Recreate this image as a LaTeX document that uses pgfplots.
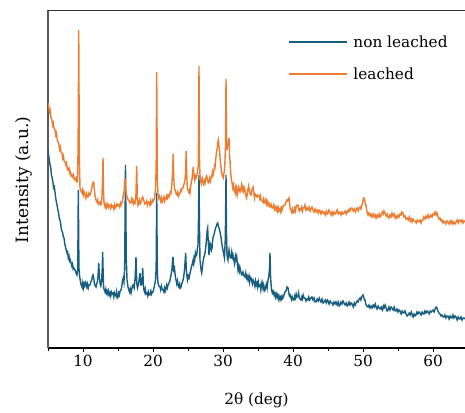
\documentclass[border=0pt]{standalone}
\usepackage{pgfplots}
\pgfplotsset{compat=1.18}
\usepackage{fontspec}
\setmainfont{DejaVu Serif}
\definecolor{nlblue}{RGB}{24,94,126}
\definecolor{lorange}{RGB}{237,125,49}
\newcommand{\chartfont}{\fontsize{15.3}{18}\selectfont}

% intensity in arbitrary units (no y tick labels)
\pgfplotstableread{
x y
5.00 198
5.10 192
5.20 188
5.29 183
5.40 180
5.50 172
5.57 171
5.70 166
5.80 160
5.90 161
6.00 156
6.10 150
6.20 146
6.30 143
6.40 138
6.50 136
6.60 130
6.71 128
6.80 125
6.90 119
7.00 117
7.10 115
7.20 111
7.29 110
7.40 104
7.50 101
7.60 98
7.71 95
7.80 96
7.90 90
8.00 92
8.10 87
8.20 88
8.29 85
8.40 82
8.50 84
8.60 79
8.70 80
8.86 78
9.00 75
9.14 73
9.25 80
9.33 158
9.42 80
9.50 73
9.60 68
9.70 64
9.86 61
9.95 65
10.05 60
10.15 64
10.25 62
10.35 66
10.43 65
10.55 61
10.65 64
10.75 60
10.85 63
11.00 63
11.10 66
11.25 68
11.35 72
11.43 73
11.55 69
11.65 64
11.75 62
11.86 61
11.95 64
12.05 66
12.15 72
12.25 85
12.35 70
12.45 64
12.55 62
12.65 66
12.75 80
12.81 96
12.88 75
12.95 60
13.05 58
13.15 56
13.25 59
13.35 55
13.45 57
13.55 54
13.65 57
13.75 53
13.86 55
13.95 52
14.05 56
14.15 54
14.29 55
14.40 51
14.50 55
14.60 53
14.71 52
14.80 56
14.90 50
15.00 51
15.10 55
15.20 53
15.30 57
15.43 58
15.55 62
15.65 68
15.75 70
15.85 66
15.95 80
16.07 183
16.18 90
16.29 68
16.43 61
16.55 58
16.65 56
16.75 59
16.86 55
16.95 58
17.05 62
17.14 63
17.30 60
17.45 70
17.57 91
17.68 65
17.78 60
17.86 62
17.96 66
18.05 70
18.14 75
18.25 63
18.36 63
18.45 70
18.53 80
18.62 64
18.71 58
18.80 56
18.90 59
19.00 54
19.14 55
19.25 52
19.35 56
19.45 53
19.57 53
19.70 57
19.80 54
19.90 56
20.00 56
20.10 59
20.20 62
20.36 68
20.45 80
20.53 155
20.62 75
20.71 65
20.85 62
21.00 61
21.10 58
21.20 62
21.30 59
21.43 58
21.55 56
21.65 60
21.75 57
21.86 60
21.95 63
22.05 60
22.15 63
22.29 65
22.40 67
22.50 70
22.57 73
22.70 78
22.80 88
22.86 91
22.95 78
23.07 80
23.18 72
23.29 68
23.40 64
23.50 67
23.57 63
23.70 61
23.80 64
23.90 60
24.00 61
24.10 64
24.20 66
24.29 68
24.40 72
24.50 78
24.60 88
24.67 95
24.75 80
24.85 72
24.93 68
25.05 72
25.15 70
25.29 75
25.40 78
25.50 82
25.57 83
25.70 87
25.80 84
25.86 90
25.95 88
26.05 95
26.15 92
26.24 93
26.35 100
26.43 103
26.50 130
26.57 173
26.64 120
26.71 88
26.80 82
26.90 77
26.96 75
27.05 80
27.14 86
27.25 90
27.35 93
27.43 95
27.55 102
27.65 110
27.75 118
27.81 120
27.90 105
28.00 93
28.08 98
28.14 105
28.25 103
28.35 98
28.43 100
28.52 108
28.62 112
28.71 113
28.80 116
28.86 118
28.95 120
29.05 122
29.15 124
29.24 125
29.33 122
29.43 120
29.52 118
29.62 114
29.71 111
29.80 106
29.90 101
30.00 98
30.10 94
30.21 90
30.33 110
30.43 173
30.50 115
30.57 93
30.64 90
30.71 88
30.80 95
30.86 98
30.95 93
31.05 90
31.14 90
31.25 96
31.35 91
31.43 93
31.55 88
31.65 84
31.71 86
31.80 92
31.90 89
31.96 91
32.05 84
32.14 78
32.25 82
32.35 77
32.43 80
32.55 76
32.65 73
32.71 73
32.85 76
33.00 72
33.14 71
33.25 75
33.35 70
33.45 72
33.57 68
33.70 72
33.80 66
33.90 71
34.00 70
34.10 67
34.20 64
34.30 68
34.43 66
34.55 62
34.65 67
34.75 63
34.86 65
34.95 61
35.05 66
35.15 62
35.29 63
35.40 58
35.50 64
35.57 66
35.70 60
35.80 63
35.90 57
36.00 58
36.10 62
36.20 64
36.30 60
36.43 68
36.55 72
36.63 78
36.71 95
36.80 70
36.93 58
37.05 55
37.15 57
37.29 53
37.40 55
37.50 51
37.60 54
37.71 51
37.80 53
37.90 49
38.00 52
38.14 48
38.25 51
38.35 49
38.45 52
38.55 50
38.71 53
38.85 56
39.00 57
39.15 61
39.29 60
39.40 55
39.50 52
39.60 53
39.71 50
39.80 48
39.90 51
40.00 49
40.14 48
40.25 52
40.35 50
40.45 54
40.55 51
40.71 52
40.80 55
40.90 50
41.00 49
41.14 48
41.25 51
41.35 49
41.45 53
41.57 50
41.71 50
41.85 47
42.00 49
42.14 48
42.25 51
42.40 48
42.55 50
42.71 51
42.85 48
43.00 50
43.15 46
43.29 46
43.45 49
43.60 47
43.75 50
43.86 48
44.00 46
44.15 49
44.30 45
44.43 46
44.60 48
44.75 45
44.90 48
45.00 47
45.15 44
45.30 47
45.45 45
45.57 45
45.70 43
45.85 46
46.00 44
46.14 46
46.30 43
46.45 46
46.60 42
46.71 43
46.85 46
47.00 44
47.15 47
47.29 45
47.45 43
47.60 45
47.75 42
47.86 43
48.00 46
48.15 43
48.30 45
48.43 44
48.60 41
48.75 45
48.90 43
49.00 45
49.15 47
49.30 46
49.45 49
49.57 50
49.70 48
49.80 51
49.90 52
50.00 53
50.10 51
50.20 48
50.29 48
50.40 44
50.55 42
50.71 41
50.85 43
51.00 40
51.15 42
51.29 40
51.45 43
51.60 41
51.75 44
51.86 41
52.00 39
52.15 42
52.30 40
52.43 39
52.60 41
52.75 38
52.90 42
53.00 40
53.15 43
53.30 40
53.45 37
53.57 38
53.70 41
53.85 38
54.00 41
54.14 40
54.30 38
54.45 41
54.60 37
54.71 37
54.85 39
55.00 36
55.15 38
55.29 37
55.45 34
55.60 37
55.75 35
55.86 35
56.00 37
56.15 34
56.30 32
56.43 33
56.60 35
56.75 33
56.90 36
57.00 34
57.15 31
57.30 34
57.45 32
57.57 33
57.70 36
57.85 34
58.00 36
58.14 35
58.30 33
58.45 36
58.60 34
58.71 34
58.85 37
59.00 35
59.15 37
59.29 36
59.45 34
59.60 37
59.75 36
59.86 37
60.00 38
60.15 36
60.30 39
60.45 41
60.57 40
60.70 37
60.85 35
61.00 34
61.15 32
61.29 33
61.45 31
61.57 31
61.70 33
61.85 30
62.00 32
62.14 32
62.30 29
62.45 32
62.60 30
62.71 30
62.85 33
63.00 30
63.15 32
63.29 31
63.45 28
63.60 31
63.75 29
63.86 29
64.00 31
64.15 28
64.30 30
64.43 30
64.57 29
}\nonleached

\pgfplotstableread{
x y
5.00 245
5.10 242
5.20 236
5.30 238
5.43 230
5.55 228
5.65 223
5.75 225
5.85 220
6.00 218
6.10 213
6.20 215
6.30 209
6.43 206
6.55 204
6.65 199
6.75 201
6.85 196
7.00 195
7.10 190
7.20 192
7.30 187
7.43 186
7.55 183
7.65 185
7.75 179
7.86 178
8.00 180
8.10 175
8.20 176
8.30 172
8.43 173
8.55 171
8.65 173
8.75 169
8.86 168
9.00 170
9.10 166
9.21 166
9.30 200
9.39 318
9.48 190
9.57 160
9.70 157
9.86 155
9.95 158
10.05 153
10.15 156
10.29 153
10.40 150
10.50 154
10.60 151
10.71 151
10.85 155
11.00 153
11.14 156
11.25 160
11.35 163
11.45 166
11.53 166
11.62 158
11.71 153
11.80 150
11.90 147
12.00 146
12.10 148
12.20 144
12.29 145
12.40 146
12.50 143
12.57 143
12.70 150
12.80 170
12.86 190
12.92 160
13.00 145
13.07 143
13.15 141
13.25 144
13.35 140
13.43 141
13.55 144
13.65 141
13.75 143
13.86 143
13.95 140
14.05 143
14.15 141
14.29 142
14.40 139
14.50 143
14.60 140
14.71 141
14.85 144
15.00 142
15.14 143
15.25 141
15.35 145
15.45 143
15.57 145
15.70 150
15.80 155
15.86 155
15.95 165
16.00 170
16.08 160
16.21 153
16.35 150
16.45 148
16.57 148
16.70 145
16.86 146
16.95 149
17.05 146
17.14 148
17.25 144
17.35 146
17.43 145
17.55 150
17.67 182
17.76 150
17.86 143
17.95 145
18.05 148
18.15 144
18.29 146
18.40 149
18.50 151
18.57 150
18.70 147
18.85 144
19.00 145
19.10 147
19.20 143
19.30 146
19.43 146
19.55 143
19.65 147
19.75 144
19.86 145
19.95 148
20.05 147
20.21 150
20.35 158
20.45 180
20.53 276
20.62 170
20.71 155
20.80 150
20.90 152
21.00 150
21.10 147
21.20 150
21.30 146
21.43 148
21.55 151
21.65 147
21.75 150
21.86 149
21.95 152
22.05 150
22.15 153
22.29 151
22.40 154
22.50 156
22.57 155
22.65 160
22.71 166
22.80 175
22.88 194
22.96 170
23.05 160
23.12 158
23.21 158
23.30 154
23.43 153
23.55 156
23.65 152
23.75 154
23.86 155
23.95 158
24.05 157
24.15 160
24.29 160
24.40 163
24.50 166
24.57 168
24.65 175
24.74 197
24.81 175
24.90 160
25.00 158
25.10 156
25.20 158
25.29 155
25.40 162
25.50 168
25.57 168
25.65 175
25.76 181
25.85 172
25.95 168
26.05 172
26.15 170
26.29 173
26.38 178
26.47 183
26.57 282
26.64 190
26.71 173
26.80 168
26.90 164
26.96 166
27.05 170
27.14 168
27.25 164
27.35 167
27.43 165
27.55 170
27.65 172
27.71 171
27.80 168
27.90 165
28.00 166
28.10 170
28.20 167
28.29 170
28.40 172
28.50 176
28.57 173
28.70 177
28.80 182
28.86 181
28.95 188
29.05 195
29.14 198
29.24 205
29.33 208
29.42 202
29.50 198
29.60 188
29.71 181
29.80 176
29.90 172
30.04 170
30.15 175
30.25 182
30.35 200
30.43 269
30.50 215
30.57 198
30.64 202
30.71 203
30.80 206
30.86 210
30.95 190
31.00 188
31.10 175
31.20 168
31.29 165
31.40 160
31.50 163
31.57 158
31.70 156
31.80 160
31.86 155
31.95 159
32.05 154
32.14 158
32.25 161
32.35 157
32.43 156
32.55 159
32.65 163
32.75 158
32.86 161
32.95 157
33.05 160
33.14 158
33.25 153
33.35 150
33.43 152
33.55 158
33.65 162
33.71 160
33.80 156
33.90 154
34.00 153
34.10 157
34.20 160
34.29 161
34.40 155
34.50 150
34.60 154
34.71 153
34.85 151
35.00 153
35.14 152
35.25 149
35.35 152
35.45 148
35.57 148
35.70 146
35.80 149
35.90 145
36.00 145
36.10 148
36.20 144
36.30 147
36.43 143
36.55 145
36.65 141
36.71 141
36.85 144
37.00 140
37.14 140
37.25 143
37.35 139
37.45 141
37.57 138
37.70 141
37.80 137
37.90 140
38.00 137
38.14 139
38.25 136
38.35 140
38.43 138
38.55 141
38.70 143
38.86 143
39.00 146
39.14 148
39.25 147
39.35 149
39.43 150
39.52 145
39.60 139
39.71 138
39.80 136
39.90 139
40.00 135
40.14 136
40.25 140
40.35 137
40.45 141
40.55 143
40.71 143
40.80 140
40.90 137
41.00 139
41.14 138
41.25 141
41.35 137
41.45 140
41.57 140
41.70 143
41.85 138
42.00 140
42.14 138
42.30 141
42.45 137
42.55 139
42.71 141
42.85 138
43.00 136
43.15 139
43.29 136
43.45 138
43.60 135
43.75 138
43.86 137
44.00 134
44.15 137
44.30 135
44.43 136
44.60 133
44.75 137
44.90 134
45.00 135
45.15 138
45.30 135
45.45 133
45.57 136
45.70 133
45.85 136
46.00 134
46.14 135
46.30 138
46.45 134
46.60 136
46.71 136
46.85 133
47.00 136
47.15 134
47.29 135
47.45 137
47.60 134
47.75 137
47.86 136
48.00 139
48.15 137
48.30 140
48.43 140
48.60 137
48.75 139
48.90 136
49.00 138
49.15 140
49.30 137
49.45 140
49.57 141
49.70 139
49.85 143
49.95 146
50.05 150
50.14 150
50.25 147
50.35 143
50.43 143
50.55 137
50.71 133
50.85 135
51.00 132
51.15 134
51.29 131
51.45 134
51.60 131
51.75 133
51.86 130
52.00 133
52.15 131
52.30 134
52.43 131
52.60 133
52.75 136
52.90 134
53.00 137
53.14 135
53.30 132
53.45 134
53.57 131
53.71 130
53.85 133
54.00 131
54.14 135
54.29 132
54.45 134
54.60 130
54.71 132
54.86 130
55.00 133
55.15 131
55.29 134
55.43 133
55.55 136
55.71 135
55.85 131
56.00 132
56.15 129
56.29 130
56.45 128
56.60 131
56.75 127
56.86 129
57.00 126
57.15 129
57.30 127
57.43 127
57.60 125
57.75 128
57.90 126
58.00 126
58.15 128
58.30 125
58.45 128
58.57 128
58.70 131
58.85 129
59.00 132
59.14 130
59.30 133
59.45 130
59.57 131
59.70 133
59.85 131
60.00 134
60.14 133
60.30 136
60.45 133
60.57 135
60.70 132
60.85 129
61.00 130
61.15 127
61.29 128
61.45 125
61.57 127
61.70 126
61.85 124
62.00 127
62.14 126
62.30 124
62.45 127
62.60 125
62.71 127
62.85 124
63.00 126
63.15 124
63.29 126
63.45 128
63.60 125
63.75 128
63.86 128
64.00 126
64.15 128
64.30 125
64.43 127
64.57 126
}\leached

\begin{document}
\begin{tikzpicture}
\begin{axis}[
  scale only axis,
  width=417pt, height=338pt,
  xmin=5, xmax=64.57,
  ymin=0, ymax=338,
  axis x line*=bottom, axis y line*=left,
  x axis line style={-, black, line width=1.1pt},
  y axis line style={-, black!65, line width=1.6pt},
  xtick={10,20,30,40,50,60},
  minor xtick={5,15,25,35,45,55},
  ytick=\empty,
  tick align=outside,
  major tick length=4pt, minor tick length=3pt,
  every tick/.style={black, line width=0.8pt},
  tick label style={font=\chartfont, /pgf/number format/assume math mode=true},
  xlabel={2θ (deg)},
  ylabel={Intensity (a.u.)},
  xlabel style={font=\chartfont, yshift=-19pt},
  ylabel style={font=\fontsize{17}{20}\selectfont,
                at={(axis description cs:-0.0576,0.497)}, anchor=center},
  legend style={draw=none, fill=none, font=\chartfont,
                at={(axis description cs:0.568,0.937)}, anchor=north west,
                row sep=15pt, column sep=4pt},
  legend cell align=left,
  legend image code/.code={\draw[#1] (0pt,0pt) -- (58pt,0pt);},
]
\addplot[nlblue, line width=1.4pt] table {\nonleached};
\addlegendentry{non leached}
\addplot[lorange, line width=1.4pt] table {\leached};
\addlegendentry{leached}
\draw[black!80, line width=0.8pt] (rel axis cs:0,1) -- (rel axis cs:1,1);
\coordinate (bl) at (rel axis cs:0,0);
\coordinate (tr) at (rel axis cs:1,1);
\end{axis}
\pgfresetboundingbox
\path[use as bounding box] ([shift={(-48pt,-64pt)}]bl) rectangle ([shift={(0pt,10pt)}]tr);
\end{tikzpicture}
\end{document}
